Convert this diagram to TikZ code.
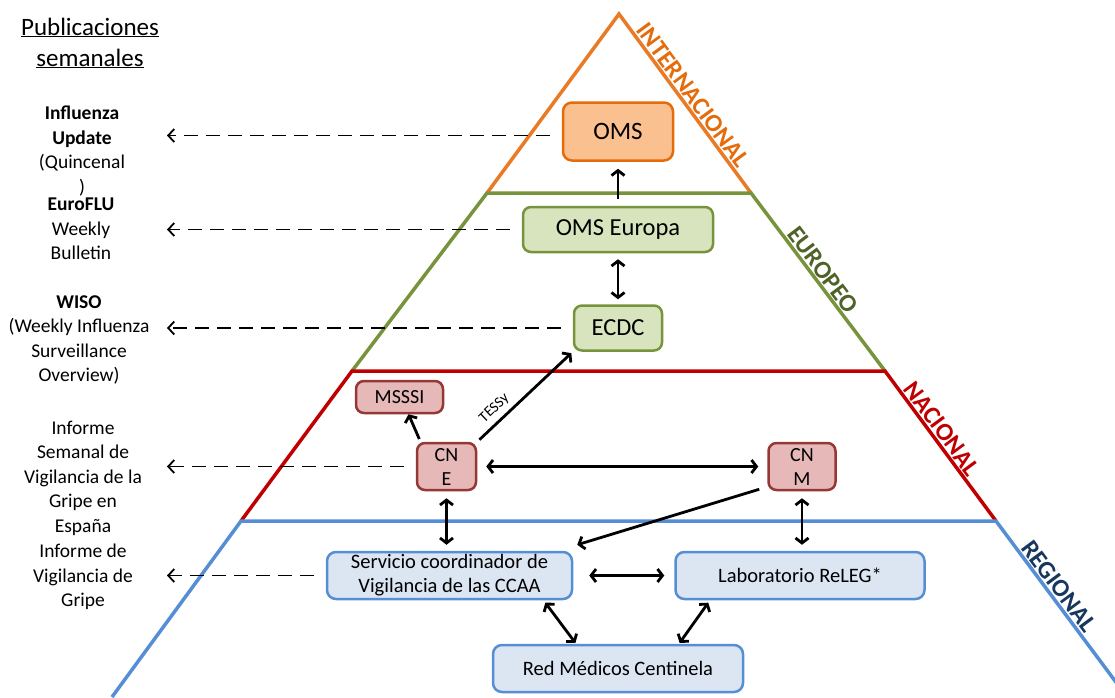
\documentclass[tikz,border=0pt]{standalone}
\usepackage{fontspec}
\setmainfont{Carlito}
\usetikzlibrary{positioning,arrows.meta}

\definecolor{intline}{HTML}{E97A26}
\definecolor{intbord}{HTML}{E46C0A}
\definecolor{intfill}{HTML}{FAC090}
\definecolor{eurline}{HTML}{77933C}
\definecolor{eurfill}{HTML}{D7E4BD}
\definecolor{eurlabel}{HTML}{4F6228}
\definecolor{nacline}{HTML}{C00000}
\definecolor{nacbord}{HTML}{953735}
\definecolor{nacfill}{HTML}{E6B9B8}
\definecolor{regline}{HTML}{558ED5}
\definecolor{regfill}{HTML}{DCE6F2}
\definecolor{reglabel}{HTML}{17375E}

\begin{document}
\begin{tikzpicture}[x=1pt,y=-1pt,
		oboxnode/.style={rectangle, rounded corners=9pt, draw=intbord, fill=intfill, line width=2.5pt, minimum width=110pt, minimum height=58pt, font=\fontsize{25}{28}\selectfont},
		gboxnode/.style={rectangle, rounded corners=8pt, draw=eurline, fill=eurfill, line width=2.5pt, minimum height=45pt, font=\fontsize{24.5}{28}\selectfont},
		rboxnode/.style={rectangle, rounded corners=8pt, draw=nacbord, fill=nacfill, line width=2.5pt, minimum height=47pt, inner sep=1pt, align=center, font=\fontsize{20}{24}\selectfont},
		bboxnode/.style={rectangle, rounded corners=9pt, draw=regline, fill=regfill, line width=2.5pt, minimum height=47pt, inner sep=1pt, align=center, font=\fontsize{20.5}{24}\selectfont},
		pubtext/.style={align=center, inner sep=0pt, font=\fontsize{19.5}{24.5}\selectfont},
		levellabel/.style={sloped, above, inner sep=3pt, font=\bfseries\fontsize{25}{25}\selectfont},
		levelline/.style={line width=3.5pt},
		onearrow/.style={-{Straight Barb[length=5pt,width=13pt]}, line width=2.8pt},
		twoarrow/.style={{Straight Barb[length=5pt,width=13pt]}-{Straight Barb[length=5pt,width=13pt]}, line width=2.8pt},
		dasharrow/.style={-{Straight Barb[length=6pt,width=13pt]}, line width=1.8pt, dash pattern=on 14pt off 8pt, shorten <=12pt},
		]
		\useasboundingbox (0,0) rectangle (1115,697);
		\clip (0,0) rectangle (1115,697);

		%Pyramid
		\coordinate (apex) at (619,14);
		\coordinate (l1) at (487,193);
		\coordinate (r1) at (751,193);
		\coordinate (l2) at (352,371);
		\coordinate (r2) at (885,371);
		\coordinate (l3) at (241,521);
		\coordinate (r3) at (996,521);
		\coordinate (l4) at (112,697);
		\coordinate (r4) at (1127,697);
		\coordinate (ltip) at (167,0);

		\draw[levelline, intline] (l1) -- (apex) -- (r1);
		\draw[levelline, eurline] (l2) -- (l1) -- (r1) -- (r2);
		\draw[levelline, nacline] (l3) -- (l2) -- (r2) -- (r3);
		\draw[levelline, regline] (l4) -- (l3) -- (r3) -- (r4);

		\path (apex) -- (r1) node[levellabel, pos=.49, text=intbord] {INTERNACIONAL};
		\path (r1) -- (r2) node[levellabel, pos=.47, text=eurlabel] {EUROPEO};
		\path (r2) -- (r3) node[levellabel, pos=.43, text=nacline] {NACIONAL};
		\path (r3) -- (r4) node[levellabel, pos=.41, text=reglabel] {REGIONAL};

		%Nodes
		\node[gboxnode, minimum width=190pt] (omseu) at (618,229.5) {OMS Europa};
		\node[oboxnode]                      (oms)   [above=44pt of omseu] {OMS};
		\node[gboxnode, minimum width=88pt]  (ecdc)  [below=51pt of omseu] {ECDC};
		\node[rboxnode, minimum width=87pt, minimum height=32pt] (msssi) at (399.5,397) {MSSSI};
		\node[rboxnode, minimum width=59pt]  (cne)   at (446.5,466.5) {CN\\E};
		\node[rboxnode, minimum width=67pt]  (cnm)   [right=290pt of cne] {CN\\M};
		\node[bboxnode, minimum width=245pt] (serv)  at (449.5,575.5) {Servicio coordinador de\\Vigilancia de las CCAA};
		\node[bboxnode, minimum width=249pt] (lab)   [right=101pt of serv] {Laboratorio ReLEG*};
		\node[bboxnode, minimum width=250pt] (red)   at (618,668.5) {Red Médicos Centinela};

		\node[pubtext, font=\fontsize{25}{31}\selectfont] (pubtitle) at (90,43) {\underline{Publicaciones}\\\underline{semanales}};
		\node[pubtext] (pub1) at (82,151) {\textbf{Influenza}\\\textbf{Update}\\(Quincenal\\)};
		\node[pubtext] (pub2) at (81,229) {\textbf{EuroFLU}\\Weekly\\Bulletin};
		\node[pubtext] (pub3) at (79,340) {\textbf{WISO}\\(Weekly Influenza\\Surveillance\\Overview)};
		\node[pubtext] (pub4) at (83,478) {Informe\\Semanal de\\Vigilancia de la\\Gripe en\\España};
		\node[pubtext] (pub5) at (83,577) {Informe de\\Vigilancia de\\Gripe};

		%Lines
		\draw[onearrow, shorten <=7pt, shorten >=7pt] (omseu.north) -- (oms.south);
		\draw[twoarrow, shorten <=6pt, shorten >=5pt] (omseu.south) -- (ecdc.north);
		\draw[onearrow, shorten <=3pt] ([xshift=-26pt]cne.north) -- ([xshift=9pt]msssi.south);
		\draw[onearrow, shorten <=3pt, shorten >=2pt] (cne.north east) -- (ecdc.south west)
			node[sloped, above, pos=.27, inner sep=5pt, font=\fontsize{15}{15}\selectfont] (tessy) {TESSy};
		\draw[twoarrow, shorten <=9pt, shorten >=9pt] (cne.east) -- (cnm.west);
		\draw[onearrow] ([xshift=-8pt,yshift=2pt]cnm.south west) -- ([xshift=4pt,yshift=6pt]serv.north east);
		\draw[twoarrow, shorten <=7pt, shorten >=6pt] (cne.south) -- (cne.south |- serv.north);
		\draw[twoarrow, shorten <=7pt, shorten >=6pt] (cnm.south) -- (cnm.south |- lab.north);
		\draw[twoarrow, shorten <=16pt, shorten >=10pt] (serv.east) -- (lab.west);
		\draw[twoarrow, shorten <=3pt, shorten >=1pt] ([xshift=94pt]serv.south) -- ([xshift=-42pt]red.north);
		\draw[twoarrow, shorten <=3pt, shorten >=1pt] ([xshift=-90pt]lab.south) -- ([xshift=61pt]red.north);

		\draw[dasharrow] ([yshift=-4pt]oms.west) -- ([yshift=-4pt]oms.west -| ltip);
		\draw[dasharrow] (omseu.west) -- (omseu.west -| ltip);
		\draw[dasharrow] (ecdc.west) -- (ecdc.west -| ltip);
		\draw[dasharrow] (cne.west) -- (cne.west -| ltip);
		\draw[dasharrow] (serv.west) -- (serv.west -| ltip);
	\end{tikzpicture}
\end{document}
